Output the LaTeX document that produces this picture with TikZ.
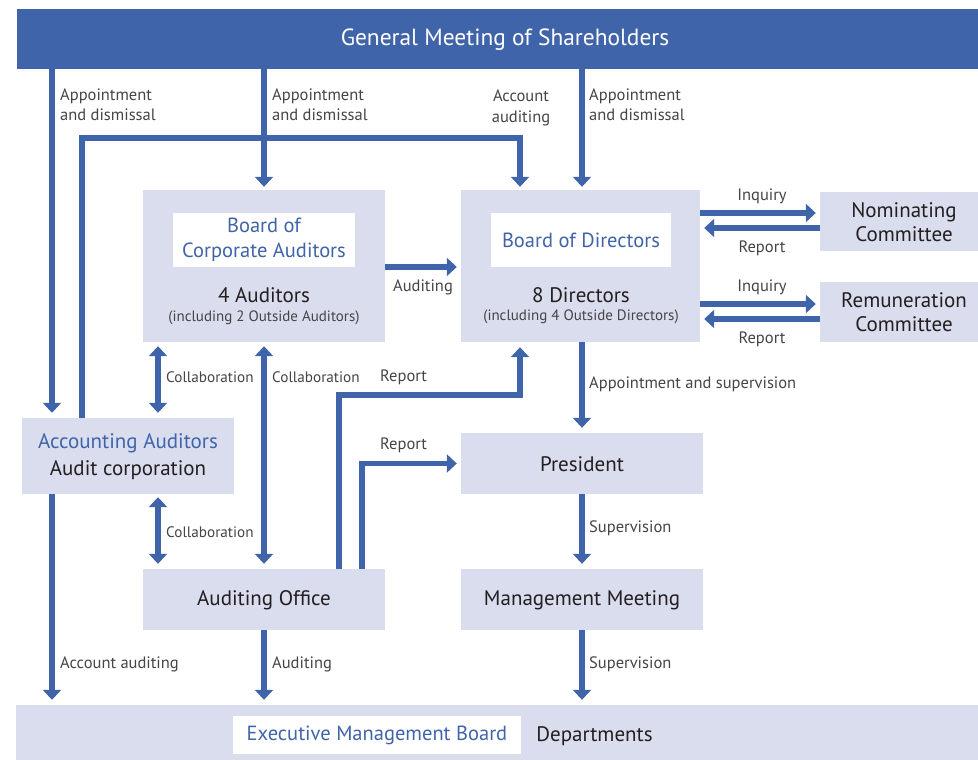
\documentclass[tikz,border=0pt]{standalone}
\usepackage{fontspec}
\setmainfont{PT Sans}
\usetikzlibrary{arrows.meta}
\definecolor{dblue}{HTML}{4064A9}
\definecolor{lbox}{HTML}{DADDEE}
\definecolor{txt}{HTML}{231F20}
\definecolor{lbl}{HTML}{454545}
\begin{document}
\begin{tikzpicture}[x=1pt,y=-1pt,
  conn/.style={draw=dblue, line width=5.5pt, -{Triangle[width=18pt,length=10pt]}},
  dconn/.style={draw=dblue, line width=5.5pt, {Triangle[width=18pt,length=10pt]}-{Triangle[width=18pt,length=10pt]}},
  pbox/.style={fill=lbox, draw=none, inner sep=0pt},
  wbox/.style={fill=white, draw=none, inner sep=0pt, text=dblue, font=\fontsize{20.5}{25}\selectfont, align=center},
  btxt/.style={text=txt, font=\fontsize{21}{24.5}\selectfont, align=center, inner sep=0pt},
  stxt/.style={text=lbl, font=\fontsize{15}{18}\selectfont, inner sep=0pt},
  lab/.style={text=lbl, font=\fontsize{16.5}{20}\selectfont, inner sep=0pt, align=left, anchor=west},
  labn/.style={lab, font=\fontsize{15.2}{20}\selectfont},
  labc/.style={text=lbl, font=\fontsize{16.5}{21}\selectfont, inner sep=0pt, align=center}
]
\useasboundingbox (0,0) rectangle (978,760);
\fill[white] (0,0) rectangle (978,760);

% boxes
\node[fill=dblue, inner sep=0pt, minimum width=961pt, minimum height=59.5pt] (gms) at (497.5,39.25) {};
\node[text=white, font=\fontsize{23.4}{26}\selectfont, inner sep=0pt] (gmst) at (505,40) {General Meeting of Shareholders};

\node[pbox, minimum width=242pt, minimum height=152pt] (boca) at (264,266) {};
\node[wbox, minimum width=182pt, minimum height=54pt] (bocaw) at (264,240) {Board of\\Corporate Auditors};
\node[btxt] (bocan) at (264,295) {4 Auditors};
\node[stxt] (bocas) at (264,318) {(including 2 Outside Auditors)};

\node[pbox, minimum width=239pt, minimum height=152pt] (bod) at (580.5,266) {};
\node[wbox, minimum width=180pt, minimum height=54pt] (bodw) at (581,240) {Board of Directors};
\node[btxt] (bodn) at (581,295) {8 Directors};
\node[stxt] (bods) at (581,317) {(including 4 Outside Directors)};

\node[pbox, minimum width=158pt, minimum height=59pt] (nom) at (899,221.5) {};
\node[btxt] (nomt) at (904,222) {Nominating\\Committee};
\node[pbox, minimum width=158pt, minimum height=60pt] (rem) at (899,312) {};
\node[btxt] (remt) at (904,312) {Remuneration\\Committee};

\node[pbox, minimum width=212pt, minimum height=76pt] (acc) at (128,456) {};
\node[btxt, text=dblue] (acct) at (128,443) {Accounting Auditors};
\node[btxt] (accs) at (128,470) {Audit corporation};

\node[pbox, minimum width=242pt, minimum height=61pt] (pres) at (582,463.5) {};
\node[btxt] (prest) at (582,464) {President};

\node[pbox, minimum width=242pt, minimum height=61pt] (ao) at (264,599.5) {};
\node[btxt] (aot) at (264,600) {Auditing Office};

\node[pbox, minimum width=242pt, minimum height=61pt] (mm) at (582,599.5) {};
\node[btxt] (mmt) at (582,600) {Management Meeting};

\node[pbox, minimum width=962pt, minimum height=55pt] (dep) at (497,732.5) {};
\node[wbox, minimum width=288pt, minimum height=38pt] (emb) at (377,735) {Executive Management Board};
\node[btxt] (dept) at (594.5,736) {Departments};

% helper coordinates
\coordinate (c52) at (52,0);
\coordinate (c158) at (158,0);
\coordinate (c264) at (264,0);
\coordinate (c339) at (339,0);
\coordinate (c362) at (362,0);
\coordinate (c520) at (520,0);
\coordinate (c582) at (582,0);
\coordinate (ta) at (82,138);
\coordinate (tr) at (339,395);
\coordinate (y213) at (0,213);
\coordinate (y228) at (0,228);
\coordinate (y267) at (0,267);
\coordinate (y304) at (0,304);
\coordinate (y319) at (0,319);

% connectors
\draw[conn, shorten >=5pt] (gms.south -| c52) -- (acc.north -| c52);
\draw[conn, shorten >=3pt] (acc.north -| ta) -- (ta) -| (bod.north -| c520);
\draw[conn, shorten >=3pt] (gms.south -| boca.north) -- (boca.north);
\draw[conn, shorten >=3pt] (gms.south -| c582) -- (bod.north -| c582);
\draw[conn, shorten >=4pt] (boca.east |- y267) -- (bod.west |- y267);
\draw[conn, shorten >=4pt] (bod.east |- y213) -- (nom.west |- y213);
\draw[conn, shorten >=4pt] (nom.west |- y228) -- (bod.east |- y228);
\draw[conn, shorten >=4pt] (bod.east |- y304) -- (rem.west |- y304);
\draw[conn, shorten >=4pt] (rem.west |- y319) -- (bod.east |- y319);
\draw[dconn, shorten <=4pt, shorten >=5pt] (boca.south -| c158) -- (acc.north -| c158);
\draw[dconn, shorten <=4pt, shorten >=5pt] (boca.south) -- (ao.north);
\draw[dconn, shorten <=3pt, shorten >=5pt] (acc.south -| c158) -- (ao.north -| c158);
\draw[conn, shorten >=5pt] (ao.north -| tr) -- (tr) -| (bod.south -| c520);
\draw[conn, shorten >=4pt] (ao.north -| c362) |- (pres.west);
\draw[conn, shorten >=5pt] (bod.south -| pres.north) -- (pres.north);
\draw[conn, shorten >=5pt] (pres.south) -- (mm.north);
\draw[conn, shorten >=5pt] (mm.south) -- (dep.north -| mm.south);
\draw[conn, shorten >=5pt] (acc.south -| c52) -- (dep.north -| c52);
\draw[conn, shorten >=5pt] (ao.south) -- (dep.north -| ao.south);

% labels
\node[lab] (l1) at (60,105) {Appointment\\and dismissal};
\node[lab] (l2) at (272,105) {Appointment\\and dismissal};
\node[labc] (l3) at (521,108) {Account\\auditing};
\node[lab] (l4) at (589,105) {Appointment\\and dismissal};
\node[labc] (l5) at (423,287) {Auditing};
\node[labc] (l6) at (762,196) {Inquiry};
\node[labc] (l7) at (762,248) {Report};
\node[labc] (l8) at (762,287) {Inquiry};
\node[labc] (l9) at (762,339) {Report};
\node[labn] (l10) at (166,377) {Collaboration};
\node[labn] (l11) at (272,377) {Collaboration};
\node[lab] (l12) at (380,377) {Report};
\node[lab] (l13) at (380,445) {Report};
\node[lab] (l14) at (589,384) {Appointment and supervision};
\node[labn] (l15) at (166,532) {Collaboration};
\node[lab] (l16) at (589,528) {Supervision};
\node[lab] (l17) at (60,664) {Account auditing};
\node[lab] (l18) at (272,664) {Auditing};
\node[lab] (l19) at (589,664) {Supervision};
\end{tikzpicture}
\end{document}
